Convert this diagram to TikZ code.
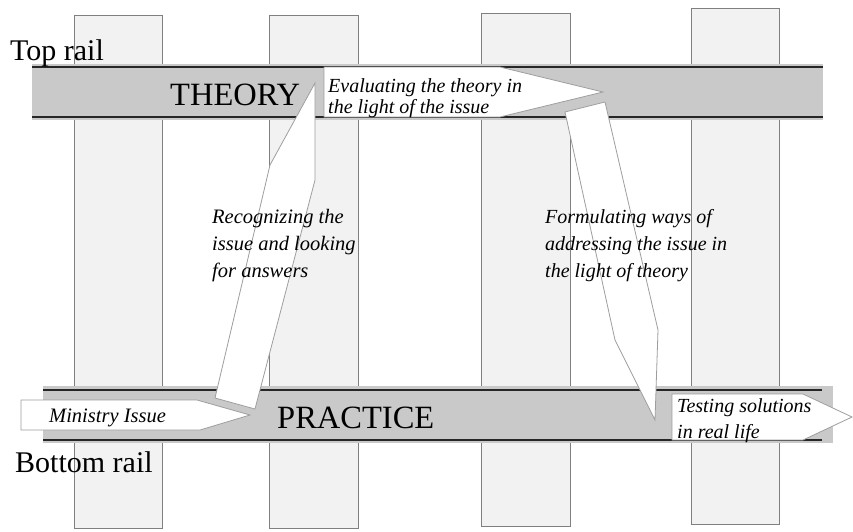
\documentclass[tikz,border=0pt]{standalone}
\usepackage{fontspec}
\setmainfont{Liberation Serif}
\begin{document}
\begin{tikzpicture}[x=1pt,y=-1pt,
  plank/.style={fill=black!5,draw=black!50,line width=0.8pt},
  railbed/.style={fill=black!21,draw=none},
  railline/.style={draw=black!85,line width=1.4pt},
  flow/.style={fill=white,draw=black!38,line width=0.8pt,line join=miter},
  railname/.style={font=\fontsize{30}{36}\selectfont,anchor=base west,inner sep=0pt},
  bigword/.style={font=\fontsize{32.5}{38}\selectfont,anchor=base west,inner sep=0pt},
  note/.style={font=\fontsize{20.5}{27}\selectfont\itshape,anchor=base west,align=left,inner sep=0pt}]
\useasboundingbox (0,0) rectangle (853,531);
\fill[white] (0,0) rectangle (853,531);

% sleepers
\draw[plank] (74,15) rectangle (162,528);
\draw[plank] (269,15) rectangle (358,528);
\draw[plank] (481,13) rectangle (570,526);
\draw[plank] (691,8) rectangle (779,524);

% top rail
\fill[railbed] (32,64) rectangle (823,120);
\coordinate (tl1) at (32,67);  \coordinate (tr1) at (823,67);
\coordinate (tl2) at (32,117); \coordinate (tr2) at (823,117);
\draw[railline] (tl1) -- (tr1);
\draw[railline] (tl2) -- (tr2);

% bottom rail
\fill[railbed] (43,386) rectangle (833,443);
\coordinate (bl1) at (43,390);  \coordinate (br1) at (822,390);
\coordinate (bl2) at (43,440);  \coordinate (br2) at (822,440);
\draw[railline] (bl1) -- (br1);
\draw[railline] (bl2) -- (br2);

% flow arrows
\draw[flow] (21,400) -- (197,400) -- (250,415) -- (200,430) -- (21,430) -- cycle;
\draw[flow] (215,398) -- (270,165) -- (315,83) -- (315,180) -- (255,409) -- cycle;
\draw[flow] (324,67) -- (500,67) -- (603,92) -- (500,117) -- (324,117) -- cycle;
\draw[flow] (565,112) -- (605,102) -- (658,330) -- (655,420) -- (615,340) -- cycle;
\draw[flow] (672,394) -- (803,394) -- (852,417) -- (803,440) -- (672,440) -- cycle;

% labels (a multi-line node sits on the baseline of its last line)
\node[railname] (toprail) at (10,60) {Top rail};
\node[railname] (botrail) at (15,472) {Bottom rail};
\node[bigword] (theory) at (170,105) {THEORY};
\node[bigword] (practice) at (277,428) {PRACTICE};
\node[note,font=\fontsize{20}{20.5}\selectfont\itshape] (evaluate) at (328,113)
  {Evaluating the theory in\\the light of the issue};
\node[note] (recognize) at (212,277) {Recognizing the\\issue and looking\\for answers};
\node[note,font=\fontsize{20}{27}\selectfont\itshape] (formulate) at (545,277)
  {Formulating ways of\\addressing the issue in\\the light of theory};
\node[note,font=\fontsize{20}{26}\selectfont\itshape] (testing) at (677,438) {Testing solutions\\in real life};
\node[note] (ministry) at (49,422) {Ministry Issue};
\end{tikzpicture}
\end{document}
